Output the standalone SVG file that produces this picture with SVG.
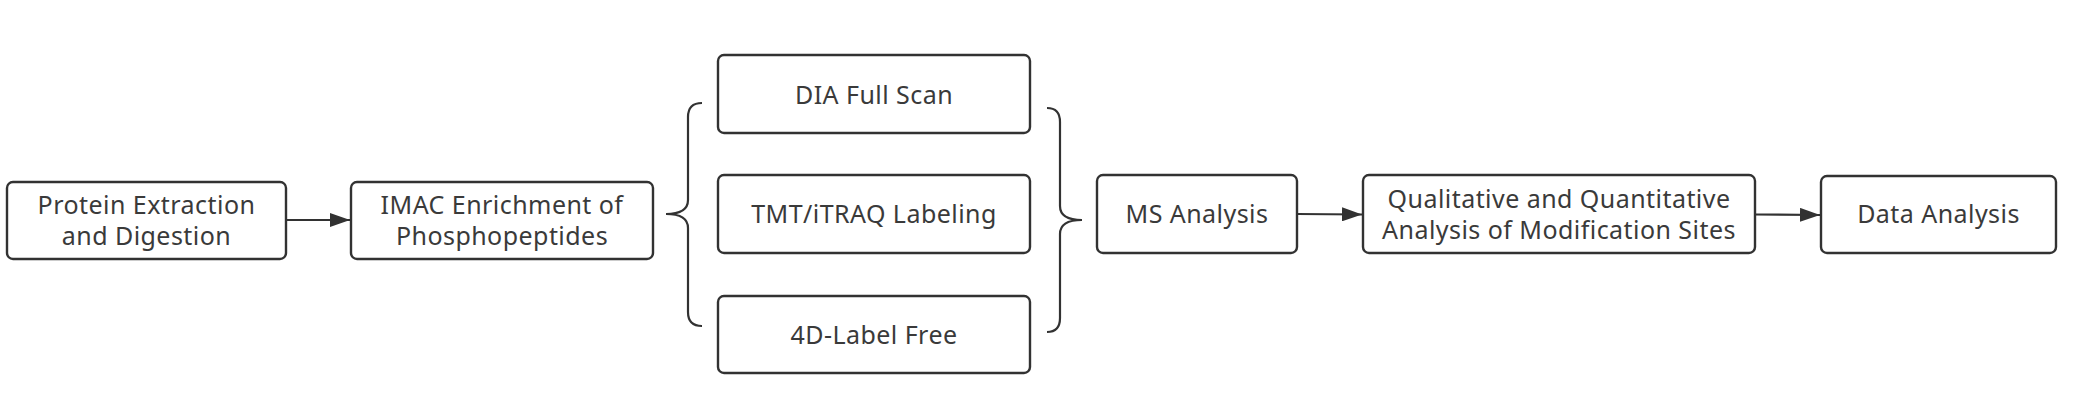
<svg xmlns="http://www.w3.org/2000/svg" width="2073" height="414" viewBox="0 0 2073 414">
<defs>
<style>
.box{fill:#ffffff;stroke:#323232;stroke-width:2.4}
.t{font-family:"Noto Sans","Open Sans","Liberation Sans",sans-serif;font-size:25px;letter-spacing:0.45px;fill:#3a3a3a;text-anchor:middle}
.ln{fill:none;stroke:#323232;stroke-width:2.2}
</style>
<marker id="arr" viewBox="0 0 20 14" refX="20" refY="7" markerWidth="20" markerHeight="14" markerUnits="userSpaceOnUse" orient="auto">
<path d="M0,0 L20,7 L0,14 Z" fill="#323232"/>
</marker>
</defs>
<rect width="2073" height="414" fill="#ffffff"/>
<g id="connectors">
<path class="ln" d="M286,220 L350,220" marker-end="url(#arr)"/>
<path class="ln" d="M1297,214 L1362,214.5" marker-end="url(#arr)"/>
<path class="ln" d="M1755,214.5 L1820,215" marker-end="url(#arr)"/>
<path class="ln" d="M702,103 Q688,103 688,117 L688,200 Q688,214 666,214 Q688,214 688,228 L688,312 Q688,326 702,326"/>
<path class="ln" d="M1047,108 Q1060,108 1060,122 L1060,206 Q1060,220 1082,220 Q1060,220 1060,234 L1060,318 Q1060,332 1047,332"/>
</g>
<g id="n1">
<rect class="box" x="7" y="182" width="279" height="77" rx="6"/>
<text class="t" x="146.5" y="214">Protein Extraction</text>
<text class="t" x="146.5" y="245">and Digestion</text>
</g>
<g id="n2">
<rect class="box" x="351" y="182" width="302" height="77" rx="6"/>
<text class="t" x="502" y="214">IMAC Enrichment of</text>
<text class="t" x="502" y="245">Phosphopeptides</text>
</g>
<g id="n3">
<rect class="box" x="718" y="55" width="312" height="78" rx="6"/>
<text class="t" x="874" y="104">DIA Full Scan</text>
</g>
<g id="n4">
<rect class="box" x="718" y="175" width="312" height="78" rx="6"/>
<text class="t" x="874" y="223">TMT/iTRAQ Labeling</text>
</g>
<g id="n5">
<rect class="box" x="718" y="296" width="312" height="77" rx="6"/>
<text class="t" x="874" y="344">4D-Label Free</text>
</g>
<g id="n6">
<rect class="box" x="1097" y="175" width="200" height="78" rx="6"/>
<text class="t" x="1197" y="223">MS Analysis</text>
</g>
<g id="n7">
<rect class="box" x="1363" y="175" width="392" height="78" rx="6"/>
<text class="t" x="1559" y="208">Qualitative and Quantitative</text>
<text class="t" x="1559" y="239">Analysis of Modification Sites</text>
</g>
<g id="n8">
<rect class="box" x="1821" y="176" width="235" height="77" rx="6"/>
<text class="t" x="1938.5" y="223">Data Analysis</text>
</g>
</svg>
